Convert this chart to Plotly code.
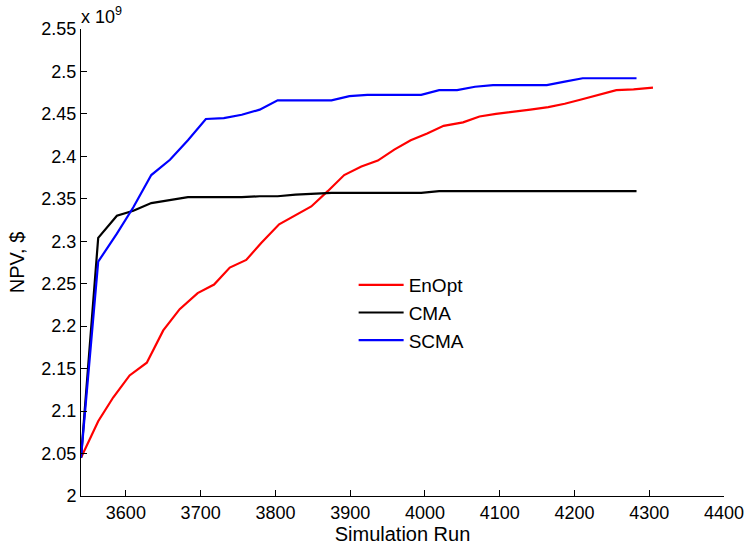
import plotly.graph_objects as go

# Data (NPV in units of 1e9 $)
enopt_x = [3540, 3563, 3583, 3605, 3628, 3650, 3672, 3696, 3718, 3739, 3761, 3781,
           3805, 3826, 3848, 3870, 3892, 3915, 3937, 3959, 3981, 4003, 4025, 4051,
           4073, 4095, 4117, 4141, 4165, 4187, 4209, 4233, 4256, 4279, 4305]
enopt_y = [2.045, 2.088, 2.116, 2.142, 2.157, 2.195, 2.220, 2.239, 2.249, 2.269, 2.278, 2.298,
           2.320, 2.330, 2.341, 2.359, 2.378, 2.388, 2.395, 2.408, 2.419, 2.427, 2.436, 2.440,
           2.447, 2.450, 2.452, 2.455, 2.458, 2.462, 2.467, 2.473, 2.478, 2.479, 2.481]

cma_x = [3540, 3563, 3588, 3610, 3634, 3659, 3683, 3707, 3731, 3755, 3779, 3803,
         3827, 3851, 3875, 3995, 4019, 4283]
cma_y = [2.045, 2.304, 2.330, 2.336, 2.345, 2.349, 2.352, 2.352, 2.352, 2.352, 2.353, 2.353,
         2.355, 2.356, 2.357, 2.357, 2.359, 2.359]

scma_x = [3540, 3563, 3588, 3610, 3634, 3659, 3683, 3707, 3731, 3755, 3779, 3803,
          3827, 3851, 3875, 3899, 3923, 3995, 4019, 4043, 4067, 4091, 4163, 4187, 4211, 4283]
scma_y = [2.045, 2.276, 2.309, 2.340, 2.378, 2.396, 2.419, 2.444, 2.445, 2.449, 2.455, 2.466,
          2.466, 2.466, 2.466, 2.471, 2.4725, 2.4725, 2.478, 2.478, 2.482, 2.484, 2.484, 2.488, 2.492, 2.492]

x_ticks = [3600, 3700, 3800, 3900, 4000, 4100, 4200, 4300, 4400]
y_ticks = [2.0, 2.05, 2.1, 2.15, 2.2, 2.25, 2.3, 2.35, 2.4, 2.45, 2.5, 2.55]
y_tick_labels = ["2", "2.05", "2.1", "2.15", "2.2", "2.25", "2.3", "2.35", "2.4", "2.45", "2.5", "2.55"]

FONT = "Liberation Sans, Arial, sans-serif"

fig = go.Figure()
fig.add_trace(go.Scatter(x=enopt_x, y=enopt_y, mode="lines", name="EnOpt",
                         line=dict(color="#ff0000", width=2.2)))
fig.add_trace(go.Scatter(x=cma_x, y=cma_y, mode="lines", name="CMA",
                         line=dict(color="#000000", width=2.2)))
fig.add_trace(go.Scatter(x=scma_x, y=scma_y, mode="lines", name="SCMA",
                         line=dict(color="#0000ff", width=2.2)))

fig.update_layout(
    width=756, height=554,
    margin=dict(l=81, r=22, t=29.3, b=50.3),
    paper_bgcolor="white", plot_bgcolor="white",
    font=dict(family=FONT, size=18, color="black"),
    showlegend=True,
    legend=dict(x=0.424, y=0.4926, xanchor="left", yanchor="top",
                bgcolor="rgba(0,0,0,0)", font=dict(size=19, family=FONT),
                itemwidth=45, tracegroupgap=0),
    xaxis=dict(range=[3540, 4400], tickvals=x_ticks, showgrid=False, zeroline=False,
               showline=True, linecolor="black", linewidth=1, mirror=False,
               ticks="inside", ticklen=6, tickcolor="black", tickwidth=1,
               tickfont=dict(size=18, family=FONT),
               title=dict(text="Simulation Run", font=dict(size=20, family=FONT), standoff=5)),
    yaxis=dict(range=[2.0, 2.55], tickvals=y_ticks, ticktext=y_tick_labels, showgrid=False,
               zeroline=False, showline=True, linecolor="black", linewidth=1, mirror=False,
               ticks="inside", ticklen=6, tickcolor="black", tickwidth=1,
               tickfont=dict(size=18, family=FONT),
               title=dict(text="NPV, $", font=dict(size=20, family=FONT), standoff=11)),
    annotations=[dict(text="x 10<sup>9</sup>", xref="paper", yref="paper", x=0, y=1,
                      xanchor="left", yanchor="bottom", showarrow=False,
                      font=dict(size=18, family=FONT), xshift=-2, yshift=0)],
)

fig.write_html("out.html")
